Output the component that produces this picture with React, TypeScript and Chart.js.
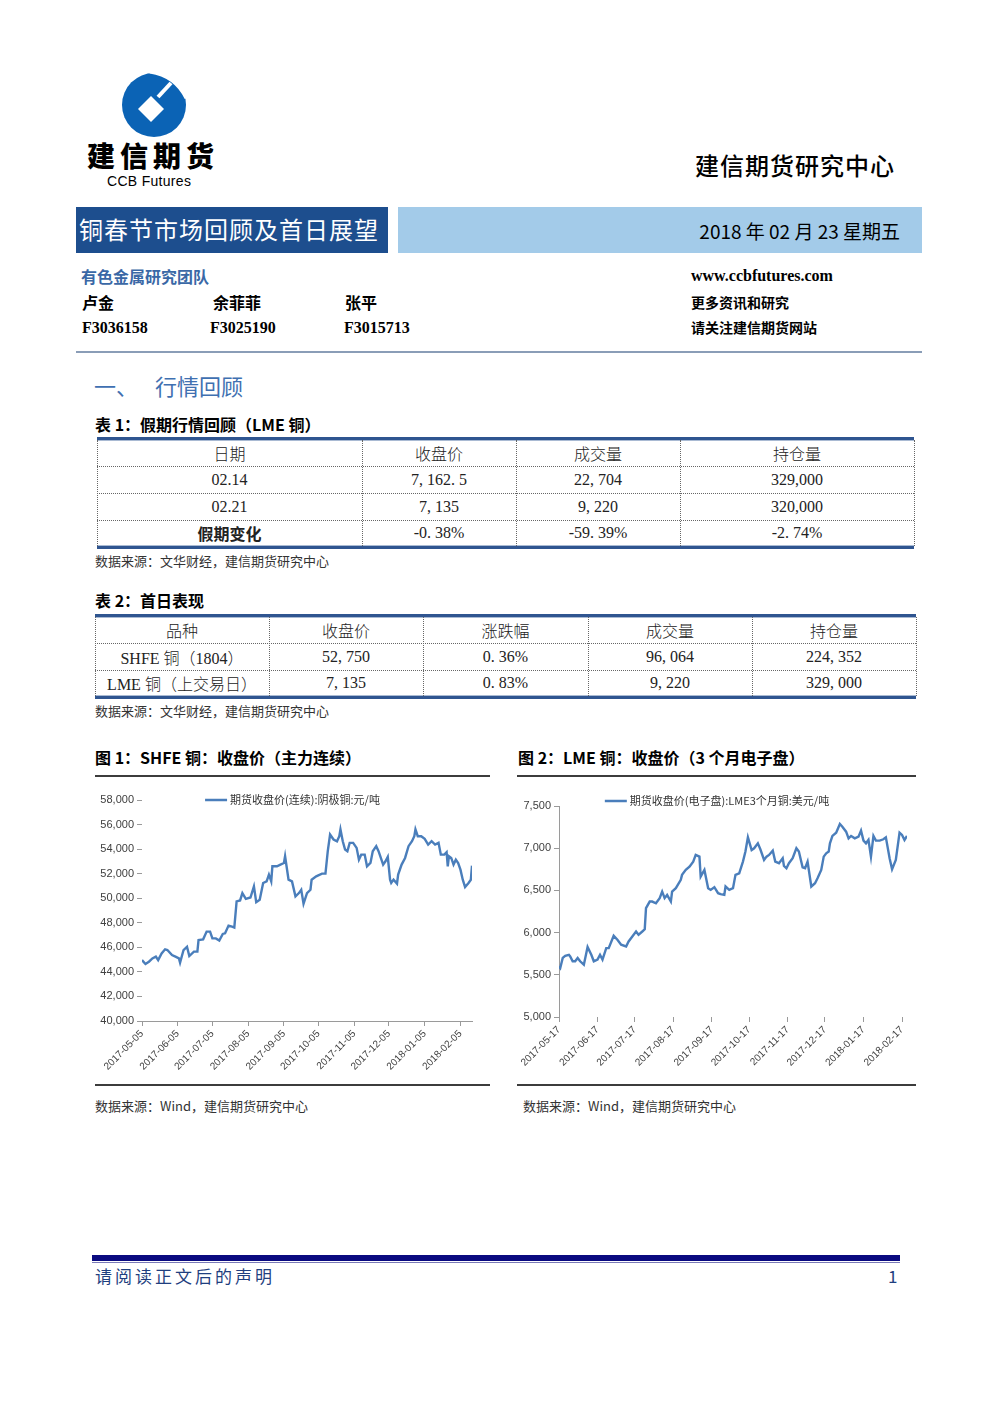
import React, { useEffect, useRef } from 'react';
import { Chart, registerables } from 'chart.js';

Chart.register(...registerables);

// ---------------- DATA ----------------
const shfeSeriesLabel = '期货收盘价(连续):阴极铜:元/吨';
const shfeDates = [
  '2017-05-05', '2017-05-08', '2017-05-11', '2017-05-14', '2017-05-17', '2017-05-19', '2017-05-22', '2017-05-25',
  '2017-05-27', '2017-05-31', '2017-06-03', '2017-06-06', '2017-06-07', '2017-06-10', '2017-06-13', '2017-06-15',
  '2017-06-19', '2017-06-22', '2017-06-23', '2017-06-27', '2017-06-30', '2017-07-03', '2017-07-05', '2017-07-08',
  '2017-07-11', '2017-07-14', '2017-07-16', '2017-07-19', '2017-07-22', '2017-07-24', '2017-07-26', '2017-07-29',
  '2017-07-31', '2017-08-03', '2017-08-07', '2017-08-10', '2017-08-12', '2017-08-15', '2017-08-18', '2017-08-21',
  '2017-08-23', '2017-08-25', '2017-08-26', '2017-08-30', '2017-09-02', '2017-09-05', '2017-09-06', '2017-09-09',
  '2017-09-12', '2017-09-15', '2017-09-18', '2017-09-20', '2017-09-22', '2017-09-25', '2017-09-28', '2017-09-29',
  '2017-10-03', '2017-10-08', '2017-10-11', '2017-10-13', '2017-10-15', '2017-10-18', '2017-10-21', '2017-10-23',
  '2017-10-24', '2017-10-26', '2017-10-28', '2017-10-30', '2017-11-01', '2017-11-04', '2017-11-07', '2017-11-09',
  '2017-11-11', '2017-11-14', '2017-11-16', '2017-11-19', '2017-11-21', '2017-11-24', '2017-11-26', '2017-11-30',
  '2017-12-02', '2017-12-04', '2017-12-06', '2017-12-07', '2017-12-09', '2017-12-12', '2017-12-13', '2017-12-16',
  '2017-12-19', '2017-12-22', '2017-12-25', '2017-12-27', '2017-12-28', '2017-12-30', '2018-01-02', '2018-01-05',
  '2018-01-08', '2018-01-11', '2018-01-14', '2018-01-17', '2018-01-19', '2018-01-22', '2018-01-24', '2018-01-25',
  '2018-01-26', '2018-01-28', '2018-01-30', '2018-02-01', '2018-02-03', '2018-02-05', '2018-02-07', '2018-02-09',
  '2018-02-12', '2018-02-14', '2018-02-15',
];
const shfeClose = [
  44960, 44640, 44830, 45100, 45240, 44960, 45500, 45840,
  45780, 45370, 45240, 45100, 44750, 45780, 46050, 45290,
  45650, 45650, 46600, 46650, 47280, 47280, 46730, 46730,
  46550, 47090, 47140, 47770, 47690, 47610, 49740, 49820,
  50420, 49950, 50060, 50960, 49680, 49870, 51240, 51370,
  51920, 51370, 52600, 52600, 52740, 52870, 53420, 51510,
  51370, 50150, 50420, 50690, 49550, 50420, 50690, 51510,
  51780, 52000, 52000, 53830, 55190, 54780, 54640, 55050,
  55600, 54640, 53970, 53830, 54510, 54510, 54100, 53140,
  53550, 53550, 52600, 52870, 53830, 54240, 53830, 52740,
  53010, 53370, 51510, 51240, 51510, 51190, 51920, 52740,
  53280, 54240, 54640, 55050, 55600, 55050, 55050, 54830,
  54370, 54640, 54370, 54510, 53550, 53550, 53750, 52600,
  53420, 53280, 52740, 53140, 52870, 52330, 51510, 50910,
  51240, 51510, 52650,
];
const shfeTickLabels = [
  '2017-05-05', '2017-06-05', '2017-07-05', '2017-08-05', '2017-09-05',
  '2017-10-05', '2017-11-05', '2017-12-05', '2018-01-05', '2018-02-05',
];
const shfeYMin = 40000;
const shfeYMax = 58000;
const shfeYStep = 2000;

const lmeSeriesLabel = '期货收盘价(电子盘):LME3个月铜:美元/吨';
const lmeDates = [
  '2017-05-17', '2017-05-18', '2017-05-20', '2017-05-22', '2017-05-25', '2017-05-26', '2017-05-28', '2017-05-30',
  '2017-06-01', '2017-06-03', '2017-06-06', '2017-06-09', '2017-06-12', '2017-06-14', '2017-06-17', '2017-06-19',
  '2017-06-21', '2017-06-24', '2017-06-26', '2017-06-30', '2017-07-03', '2017-07-06', '2017-07-10', '2017-07-12',
  '2017-07-15', '2017-07-18', '2017-07-20', '2017-07-23', '2017-07-25', '2017-07-26', '2017-07-29', '2017-07-31',
  '2017-08-03', '2017-08-06', '2017-08-08', '2017-08-10', '2017-08-12', '2017-08-15', '2017-08-16', '2017-08-19',
  '2017-08-23', '2017-08-24', '2017-08-27', '2017-08-30', '2017-09-02', '2017-09-04', '2017-09-07', '2017-09-08',
  '2017-09-11', '2017-09-14', '2017-09-16', '2017-09-19', '2017-09-22', '2017-09-24', '2017-09-27', '2017-09-28',
  '2017-10-01', '2017-10-04', '2017-10-06', '2017-10-09', '2017-10-12', '2017-10-14', '2017-10-16', '2017-10-19',
  '2017-10-21', '2017-10-24', '2017-10-26', '2017-10-29', '2017-10-31', '2017-11-02', '2017-11-05', '2017-11-07',
  '2017-11-10', '2017-11-13', '2017-11-14', '2017-11-16', '2017-11-18', '2017-11-21', '2017-11-24', '2017-11-26',
  '2017-11-29', '2017-12-01', '2017-12-03', '2017-12-06', '2017-12-09', '2017-12-11', '2017-12-14', '2017-12-16',
  '2017-12-18', '2017-12-20', '2017-12-21', '2017-12-23', '2017-12-26', '2017-12-29', '2017-12-31', '2018-01-03',
  '2018-01-05', '2018-01-07', '2018-01-10', '2018-01-13', '2018-01-15', '2018-01-17', '2018-01-19', '2018-01-21',
  '2018-01-23', '2018-01-25', '2018-01-27', '2018-01-30', '2018-02-02', '2018-02-04', '2018-02-07', '2018-02-09',
  '2018-02-12', '2018-02-15', '2018-02-17', '2018-02-19', '2018-02-21',
];
const lmeClose = [
  5600, 5580, 5700, 5725, 5737, 5718, 5660, 5660,
  5700, 5660, 5620, 5830, 5737, 5660, 5680, 5737,
  5680, 5816, 5816, 5962, 5915, 5856, 5836, 5895,
  5954, 6013, 5974, 6013, 6041, 6289, 6368, 6368,
  6348, 6408, 6486, 6408, 6447, 6368, 6486, 6526,
  6625, 6684, 6743, 6782, 6841, 6920, 6900, 6664,
  6743, 6526, 6506, 6538, 6467, 6455, 6447, 6546,
  6506, 6526, 6684, 6703, 6841, 6960, 7129, 6979,
  6999, 7058, 6987, 6861, 6900, 6920, 6971, 6841,
  6822, 6881, 6790, 6763, 6822, 6881, 6999, 6960,
  6774, 6763, 6841, 6546, 6585, 6644, 6743, 6900,
  6940, 6960, 7058, 7145, 7184, 7287, 7255, 7196,
  7117, 7145, 7117, 7137, 7208, 7090, 7058, 7098,
  6900, 7145, 7090, 7090, 7106, 7129, 6881, 6751,
  6861, 7184, 7157, 7098, 7145,
];
const lmeTickLabels = [
  '2017-05-17', '2017-06-17', '2017-07-17', '2017-08-17', '2017-09-17',
  '2017-10-17', '2017-11-17', '2017-12-17', '2018-01-17', '2018-02-17',
];
const lmeYMin = 5000;
const lmeYMax = 7500;
const lmeYStep = 500;

const table1Header = ['日期', '收盘价', '成交量', '持仓量'];
const table1Rows = [
  ['02.14', '7, 162. 5', '22, 704', '329,000'],
  ['02.21', '7, 135', '9, 220', '320,000'],
  ['假期变化', '-0. 38%', '-59. 39%', '-2. 74%'],
];
const table2Header = ['品种', '收盘价', '涨跌幅', '成交量', '持仓量'];
const table2Rows = [
  ['SHFE 铜（1804）', '52, 750', '0. 36%', '96, 064', '224, 352'],
  ['LME 铜（上交易日）', '7, 135', '0. 83%', '9, 220', '329, 000'],
];

// ---------------- HELPERS ----------------
const ts = (s: string) => Date.parse(s + 'T00:00:00Z');
const fmtDate = (v: number) => new Date(v).toISOString().slice(0, 10);
const CJK = "'Noto Sans CJK SC', 'Noto Sans', sans-serif";
const SERIF = "'Liberation Serif', 'Noto Sans CJK SC', serif";
const LINE_BLUE = '#4a7ebb';

const inlineLegend = {
  id: 'inlineLegend',
  afterDraw(chart: any, _args: any, opts: any) {
    const ds = chart.data.datasets[0];
    if (!ds) return;
    const ctx = chart.ctx;
    ctx.save();
    ctx.font = opts.font;
    const tw = ctx.measureText(ds.label).width;
    const lineW = opts.lineW;
    const gap = 3;
    const total = lineW + gap + tw;
    const x0 = chart.width / 2 - total / 2 + (opts.dx || 0);
    const y = chart.chartArea.top + (opts.dy || 0);
    ctx.strokeStyle = ds.borderColor;
    ctx.lineWidth = 2.5;
    ctx.beginPath();
    ctx.moveTo(x0, y);
    ctx.lineTo(x0 + lineW, y);
    ctx.stroke();
    ctx.fillStyle = '#333';
    ctx.textBaseline = 'middle';
    ctx.textAlign = 'left';
    ctx.fillText(ds.label, x0 + lineW + gap, y);
    ctx.restore();
  },
};

function makeConfig(p: {
  label: string; dates: string[]; values: number[]; tickLabels: string[];
  yMin: number; yMax: number; yStep: number;
  yWidth: number; xHeight: number; padTop: number; padRight: number;
  xBorder: boolean; yBorder: boolean; legendDy: number;
}): any {
  return {
    type: 'line',
    data: {
      datasets: [{
        label: p.label,
        data: p.dates.map((d, i) => ({ x: ts(d), y: p.values[i] })),
        borderColor: LINE_BLUE,
        borderWidth: 2.4,
        pointRadius: 0,
        tension: 0,
        fill: false,
      }],
    },
    options: {
      animation: false,
      responsive: false,
      devicePixelRatio: 1,
      layout: { padding: { top: p.padTop, right: p.padRight, left: 0, bottom: 0 } },
      plugins: {
        legend: { display: false },
        tooltip: { enabled: false },
        inlineLegend: { font: `11px ${CJK}`, lineW: 22, dy: p.legendDy },
      },
      scales: {
        x: {
          type: 'linear',
          min: ts(p.dates[0]),
          max: ts(p.dates[p.dates.length - 1]),
          afterBuildTicks: (s: any) => { s.ticks = p.tickLabels.map((l) => ({ value: ts(l) })); },
          afterFit: (s: any) => { s.height = p.xHeight; },
          ticks: {
            autoSkip: false, minRotation: 45, maxRotation: 45,
            font: { size: 10, family: "'Liberation Sans Narrow', 'Liberation Sans', sans-serif" },
            color: '#404040', padding: 2,
            callback: (v: number) => fmtDate(v),
          },
          grid: { drawOnChartArea: false, drawTicks: true, tickLength: 5, color: '#9a9a9a' },
          border: { display: p.xBorder, color: '#9a9a9a', width: 1 },
        },
        y: {
          min: p.yMin, max: p.yMax,
          afterFit: (s: any) => { s.width = p.yWidth; },
          ticks: {
            stepSize: p.yStep,
            font: { size: 11, family: "'Liberation Sans Narrow', 'Liberation Sans', sans-serif" },
            color: '#404040', padding: 3,
            callback: (v: number) => v.toLocaleString('en-US'),
          },
          grid: { drawOnChartArea: false, drawTicks: true, tickLength: 5, color: '#9a9a9a' },
          border: { display: p.yBorder, color: '#9a9a9a', width: 1 },
        },
      },
    },
    plugins: [inlineLegend],
  };
}

function ChartBox({ left, top, width, height, config }: any) {
  const ref = useRef<HTMLCanvasElement>(null);
  useEffect(() => {
    const chart = new Chart(ref.current as HTMLCanvasElement, config);
    return () => chart.destroy();
  }, []);
  return (
    <div style={{ position: 'absolute', left, top, width, height }}>
      <canvas ref={ref} width={width} height={height} style={{ width, height, display: 'block' }} />
    </div>
  );
}

function Txt({ x, cy, size, children, style, right, lhMul }: any) {
  const lh = Math.round(size * (lhMul || 1.4));
  const pos: any = right !== undefined ? { right: 992 - right } : { left: x };
  return (
    <div style={{
      position: 'absolute', ...pos, top: cy - lh / 2, height: lh, lineHeight: `${lh}px`,
      fontSize: size, whiteSpace: 'nowrap', fontFamily: CJK, color: '#000', ...style,
    }}>{children}</div>
  );
}

function Rect({ x, y, w, h, style }: any) {
  return <div style={{ position: 'absolute', left: x, top: y, width: w, height: h, ...style }} />;
}

function DataTable({ cols, rowsY, header, rows, boldFirstOfLast }: any) {
  const left = cols[0];
  const width = cols[cols.length - 1] - cols[0];
  const top = rowsY[0];
  const bottom = rowsY[rowsY.length - 1];
  const all = [header, ...rows];
  const els: any[] = [];
  els.push(<Rect key="tb" x={left} y={top - 3} w={width} h={3} style={{ background: '#2f5590' }} />);
  els.push(<Rect key="tb2" x={left} y={top} w={width} h={1} style={{ background: '#a9bad3' }} />);
  els.push(<Rect key="bb" x={left} y={bottom} w={width} h={3} style={{ background: '#2f5590' }} />);
  els.push(<Rect key="bb2" x={left} y={bottom - 1} w={width} h={1} style={{ background: '#a9bad3' }} />);
  rowsY.slice(1, -1).forEach((y: number, i: number) => {
    els.push(<Rect key={'h' + i} x={left} y={y} w={width} h={0} style={{ borderTop: '1px dotted #666' }} />);
  });
  cols.forEach((x: number, i: number) => {
    els.push(<Rect key={'v' + i} x={x} y={top} w={0} h={bottom - top} style={{ borderLeft: '1px dotted #666' }} />);
  });
  all.forEach((r: string[], ri: number) => {
    r.forEach((c: string, ci: number) => {
      const bold = boldFirstOfLast && ri === all.length - 1 && ci === 0;
      els.push(
        <div key={`c${ri}-${ci}`} style={{
          position: 'absolute', left: cols[ci], width: cols[ci + 1] - cols[ci],
          top: rowsY[ri], height: rowsY[ri + 1] - rowsY[ri],
          display: 'flex', alignItems: 'center', justifyContent: 'center',
          fontFamily: bold ? CJK : SERIF, fontWeight: bold ? 700 : 300, fontSize: 16,
          color: '#222', whiteSpace: 'nowrap',
        }}>{c}</div>
      );
    });
  });
  return <>{els}</>;
}

function Logo() {
  return (
    <svg style={{ position: 'absolute', left: 0, top: 0 }} width={250} height={200} viewBox="0 0 250 200">
      <circle cx={154} cy={105} r={32} fill="#0b63b5" />
      <polygon points="151,96 164,109 151,122 138,109" fill="#fff" />
      <path d="M 150 71 Q 176 75 187 98" stroke="#fff" strokeWidth={5} fill="none" />
      <path d="M 158 97 L 171 83" stroke="#fff" strokeWidth={4} fill="none" />
    </svg>
  );
}

export default function App() {
  const cfg1 = makeConfig({
    label: shfeSeriesLabel, dates: shfeDates, values: shfeClose, tickLabels: shfeTickLabels,
    yMin: shfeYMin, yMax: shfeYMax, yStep: shfeYStep,
    yWidth: 47, xHeight: 64, padTop: 22, padRight: 18, xBorder: true, yBorder: false, legendDy: 0,
  });
  const cfg2 = makeConfig({
    label: lmeSeriesLabel, dates: lmeDates, values: lmeClose, tickLabels: lmeTickLabels,
    yMin: lmeYMin, yMax: lmeYMax, yStep: lmeYStep,
    yWidth: 42, xHeight: 68, padTop: 28, padRight: 10, xBorder: false, yBorder: true, legendDy: -5,
  });

  return (
    <div style={{ position: 'absolute', left: 0, top: 0, width: 992, height: 1403, background: '#fff', overflow: 'hidden' }}>
      <Logo />
      <Txt x={87} cy={155} size={28} lhMul={1.0} style={{ fontWeight: 900, letterSpacing: 5 }}>建信期货</Txt>
      <Txt x={107} cy={181} size={14} lhMul={1.05} style={{ fontFamily: "'Liberation Sans', Arial, sans-serif", letterSpacing: 0.3 }}>CCB Futures</Txt>
      <Txt x={695} cy={165} size={24} style={{ fontWeight: 500, letterSpacing: 1 }}>建信期货研究中心</Txt>

      <Rect x={76} y={207} w={312} h={46} style={{ background: '#1d4e8e' }} />
      <Txt x={79} cy={229} size={24} style={{ color: '#fff', letterSpacing: 1 }}>铜春节市场回顾及首日展望</Txt>
      <Rect x={398} y={207} w={524} h={46} style={{ background: '#a3cbe9' }} />
      <Txt right={900} cy={230} size={19}>2018 年 02 月 23 星期五</Txt>

      <Txt x={81} cy={276} size={16} style={{ color: '#3a68a6', fontWeight: 700 }}>有色金属研究团队</Txt>
      <Txt x={82} cy={302} size={16} style={{ fontWeight: 700 }}>卢金</Txt>
      <Txt x={213} cy={302} size={16} style={{ fontWeight: 700 }}>余菲菲</Txt>
      <Txt x={345} cy={302} size={16} style={{ fontWeight: 700 }}>张平</Txt>
      <Txt x={82} cy={328} size={16} style={{ fontFamily: SERIF, fontWeight: 700 }}>F3036158</Txt>
      <Txt x={210} cy={328} size={16} style={{ fontFamily: SERIF, fontWeight: 700 }}>F3025190</Txt>
      <Txt x={344} cy={328} size={16} style={{ fontFamily: SERIF, fontWeight: 700 }}>F3015713</Txt>
      <Txt x={691} cy={276} size={16} style={{ fontFamily: SERIF, fontWeight: 700 }}>www.ccbfutures.com</Txt>
      <Txt x={691} cy={302} size={14} style={{ fontWeight: 700 }}>更多资讯和研究</Txt>
      <Txt x={691} cy={327} size={14} style={{ fontWeight: 700 }}>请关注建信期货网站</Txt>
      <Rect x={76} y={351} w={846} h={2} style={{ background: '#8a9db7' }} />

      <Txt x={94} cy={385} size={22} style={{ color: '#3f70b1' }}>一、</Txt>
      <Txt x={155} cy={385} size={22} style={{ color: '#3f70b1' }}>行情回顾</Txt>

      <Txt x={95} cy={424} size={16} style={{ fontWeight: 700 }}>表 1：假期行情回顾（LME 铜）</Txt>
      <DataTable cols={[97, 362, 516, 680, 914]} rowsY={[440, 466, 493, 520, 546]}
        header={table1Header} rows={table1Rows} boldFirstOfLast />
      <Txt x={95} cy={561} size={13} style={{ color: '#333' }}>数据来源：文华财经，建信期货研究中心</Txt>

      <Txt x={95} cy={600} size={16} style={{ fontWeight: 700 }}>表 2：首日表现</Txt>
      <DataTable cols={[95, 269, 423, 588, 752, 916]} rowsY={[617, 643, 670, 696]}
        header={table2Header} rows={table2Rows} />
      <Txt x={95} cy={711} size={13} style={{ color: '#333' }}>数据来源：文华财经，建信期货研究中心</Txt>

      <Txt x={95} cy={757} size={16} style={{ fontWeight: 700 }}>图 1：SHFE 铜：收盘价（主力连续）</Txt>
      <Txt x={518} cy={757} size={16} style={{ fontWeight: 700 }}>图 2：LME 铜：收盘价（3 个月电子盘）</Txt>
      <Rect x={95} y={775} w={395} h={2} style={{ background: '#3c3c3c' }} />
      <Rect x={517} y={775} w={399} h={2} style={{ background: '#3c3c3c' }} />

      <ChartBox left={95} top={778} width={395} height={307} config={cfg1} />
      <ChartBox left={517} top={778} width={400} height={307} config={cfg2} />

      <Rect x={95} y={1084} w={395} h={2} style={{ background: '#3c3c3c' }} />
      <Rect x={517} y={1084} w={399} h={2} style={{ background: '#3c3c3c' }} />
      <Txt x={95} cy={1106} size={13} style={{ color: '#333' }}>数据来源：Wind，建信期货研究中心</Txt>
      <Txt x={523} cy={1106} size={13} style={{ color: '#333' }}>数据来源：Wind，建信期货研究中心</Txt>

      <Rect x={92} y={1255} w={808} h={6} style={{ background: '#0a0a80' }} />
      <Rect x={92} y={1262} w={808} h={1} style={{ background: '#7a7ab8' }} />
      <Txt x={95} cy={1276} size={17} style={{ color: '#1f3f7f', letterSpacing: 3 }}>请阅读正文后的声明</Txt>
      <Txt x={888} cy={1276} size={17} style={{ color: '#1f3f7f' }}>1</Txt>
    </div>
  );
}
